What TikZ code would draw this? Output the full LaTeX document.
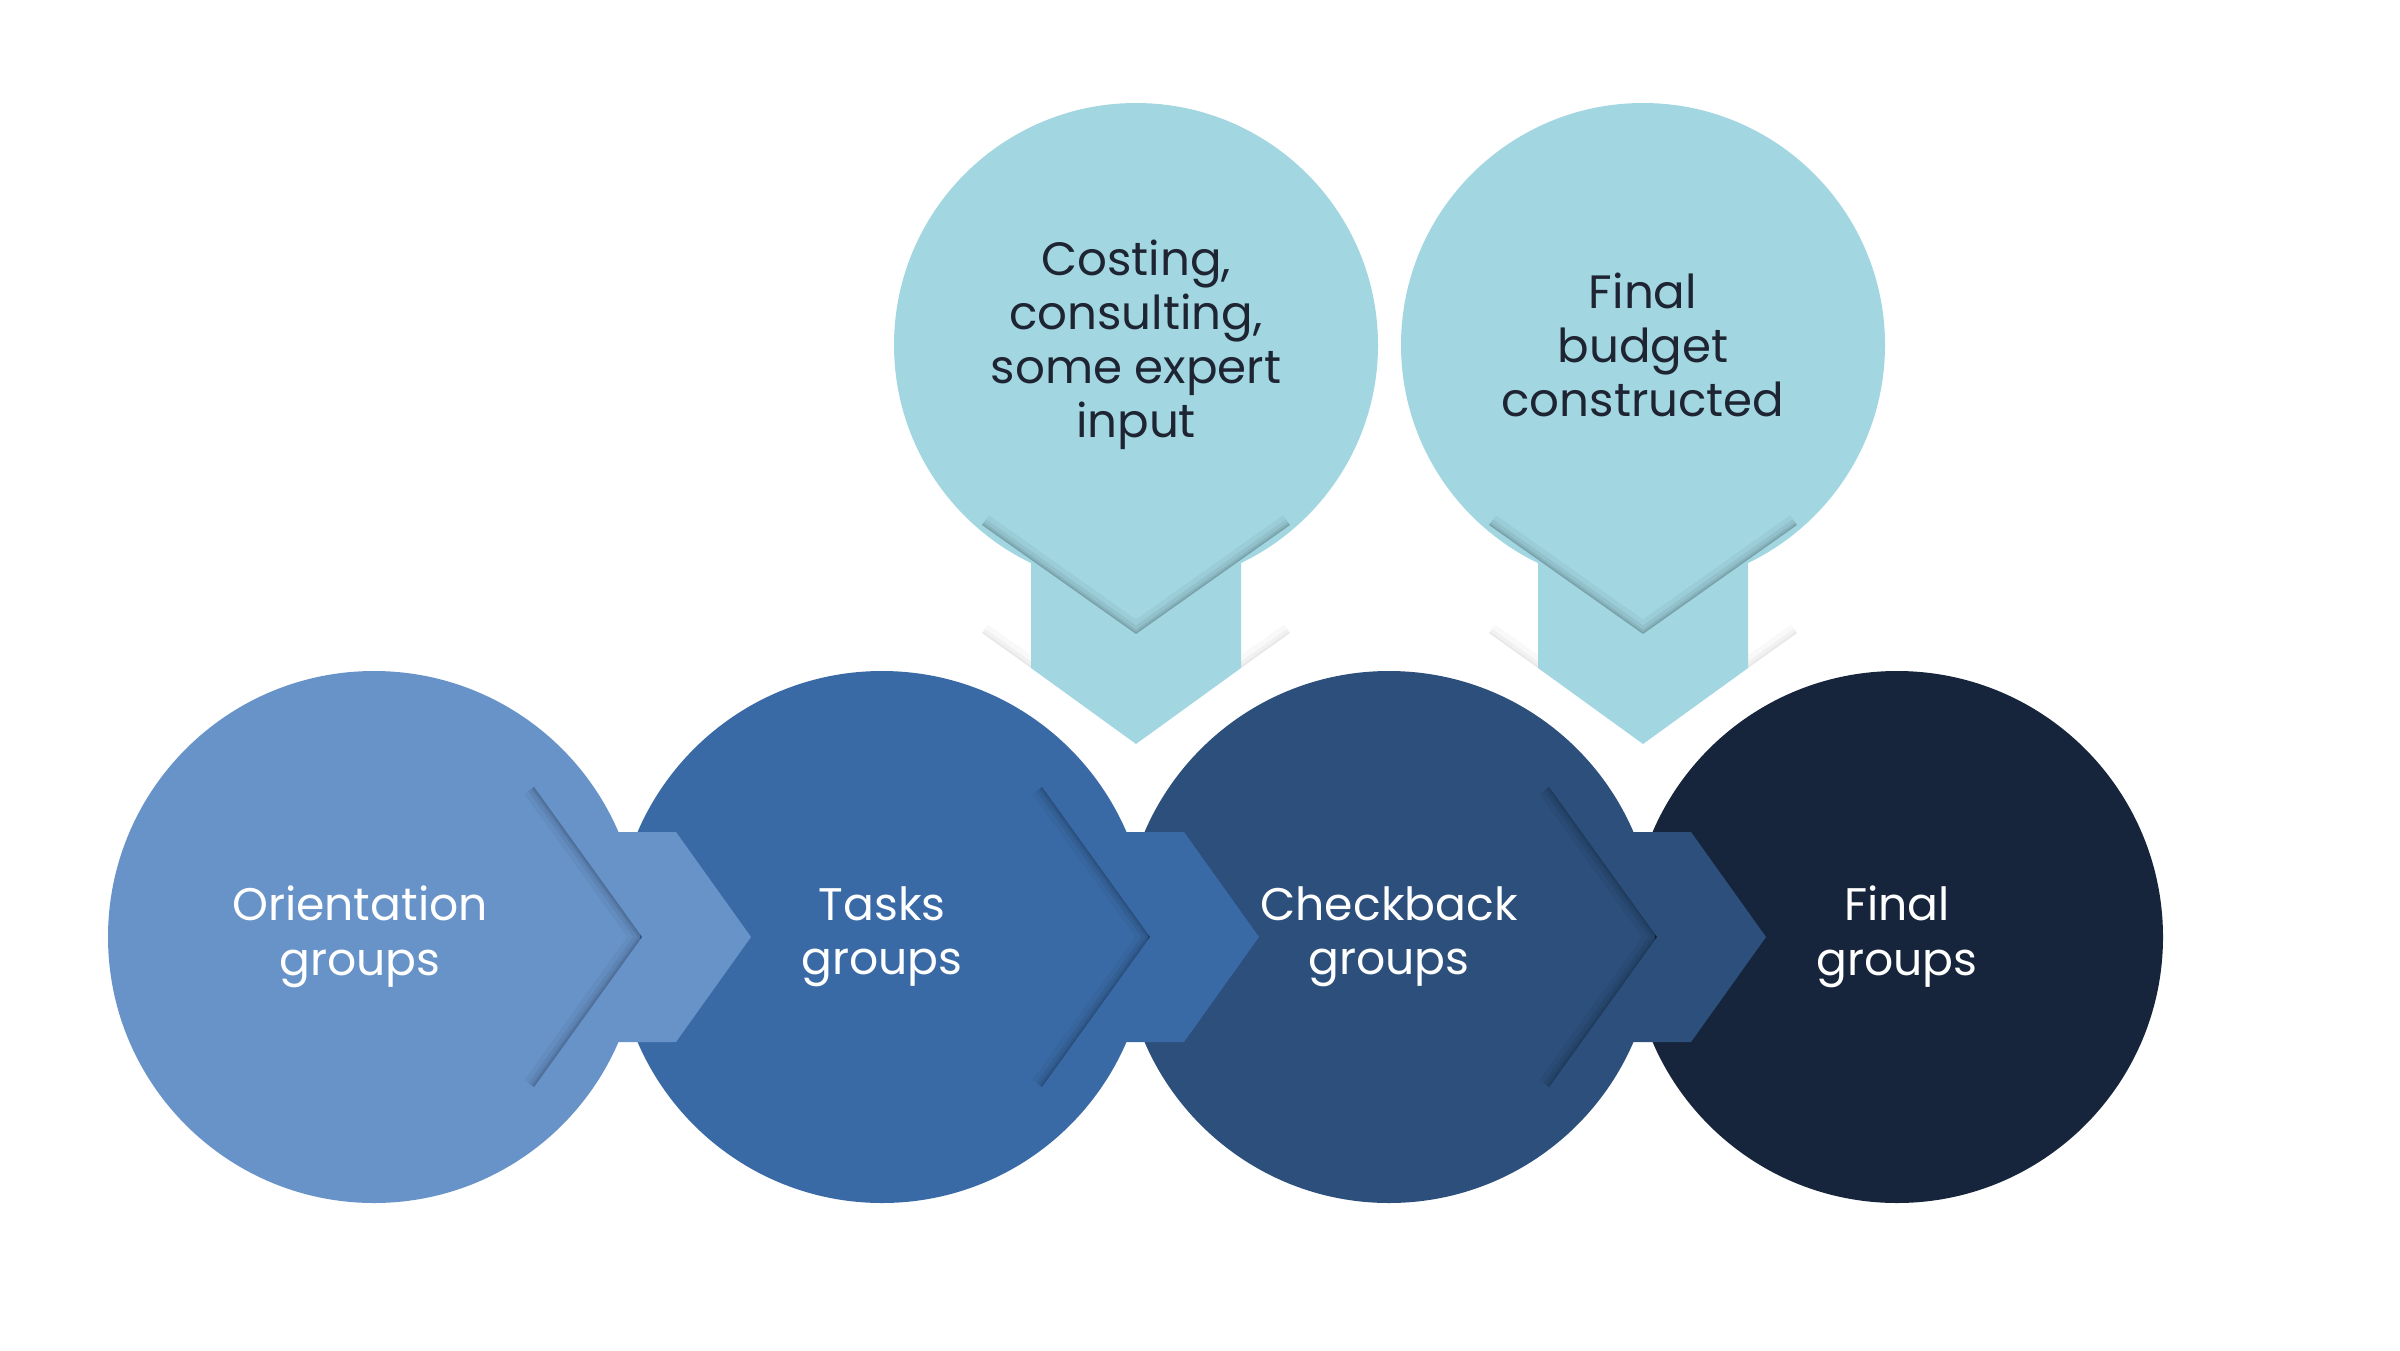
\documentclass[tikz,border=0pt]{standalone}
\usepackage{fontspec}
\setmainfont{Poppins}
\usepackage{xcolor}
\definecolor{stepA}{HTML}{6893C8}
\definecolor{stepB}{HTML}{3A6AA6}
\definecolor{stepC}{HTML}{2C4F7B}
\definecolor{stepD}{HTML}{16253B}
\definecolor{aqua}{HTML}{A2D7E2}
\definecolor{ink}{HTML}{1E2432}

\begin{document}
\begin{tikzpicture}[x=0.1mm,y=-0.1mm,
		stage/.style={circle,inner sep=0pt,minimum size=5.32cm,text=white,align=center,font=\fontsize{13}{15.5}\selectfont},
		bubble/.style={circle,inner sep=0pt,minimum size=4.84cm,fill=aqua,text=ink,align=center,font=\fontsize{13.3}{15.4}\selectfont}]
		\useasboundingbox (0,0) rectangle (2400,1350);
		% right to left, so that each circle lies over the next one
		\node[stage,fill=stepD] (final) at (1897,937) {Final\\groups};
		\node[stage,fill=stepC] (check) at (1389,937) {Checkback\\groups};
		\node[stage,fill=stepB] (tasks) at (882,937) {Tasks\\groups};
		\node[stage,fill=stepA] (orient) at (374,937) {Orientation\hspace*{2.8mm}\\groups\hspace*{2.8mm}};
		\foreach \s/\col in {orient/stepA,tasks/stepB,check/stepC}{
			\begin{scope}[shift={(\s.center)}]
				\fill[\col] (192,-105) -- (302,-105) -- (377,0) -- (302,105) -- (192,105) -- (268,0) -- cycle;
				\begin{scope}
					\clip (160,-150) -- (268,0) -- (160,150) -- (60,150) -- (60,-150) -- cycle;
					\foreach \w/\o in {6.8pt/0.045,4pt/0.055,2pt/0.07,0.85pt/0.09}
						\draw[line width=\w,opacity=\o] (160,-150) -- (268,0) -- (160,150);
				\end{scope}
			\end{scope}
		}
		\node[bubble] (cost) at (1136,345) {Costing,\\consulting,\\some expert\\input};
		\node[bubble] (budget) at (1643,345) {Final\\budget\\constructed};
		\foreach \s in {cost,budget}{
			\begin{scope}[shift={(\s.center)}]
				\fill[aqua] (-105,150) -- (105,150) -- (105,323) -- (0,399) -- (-105,323) -- cycle;
				\begin{scope}
					\clip (-154,180) -- (0,289) -- (154,180) -- (154,100) -- (-154,100) -- cycle;
					\foreach \w/\o in {6.8pt/0.045,4pt/0.055,2pt/0.07,0.85pt/0.09}
						\draw[line width=\w,opacity=\o] (-154,180) -- (0,289) -- (154,180);
				\end{scope}
				\begin{scope}
					\clip (-105,323) -- (-154,288) -- (-154,240) -- (-105,240) -- cycle
						(105,323) -- (154,288) -- (154,240) -- (105,240) -- cycle;
					\foreach \w/\o in {6pt/0.025,3pt/0.03,1pt/0.04}
						\draw[line width=\w,opacity=\o] (-154,288) -- (-105,323) (154,288) -- (105,323);
				\end{scope}
			\end{scope}
		}
	\end{tikzpicture}
\end{document}
